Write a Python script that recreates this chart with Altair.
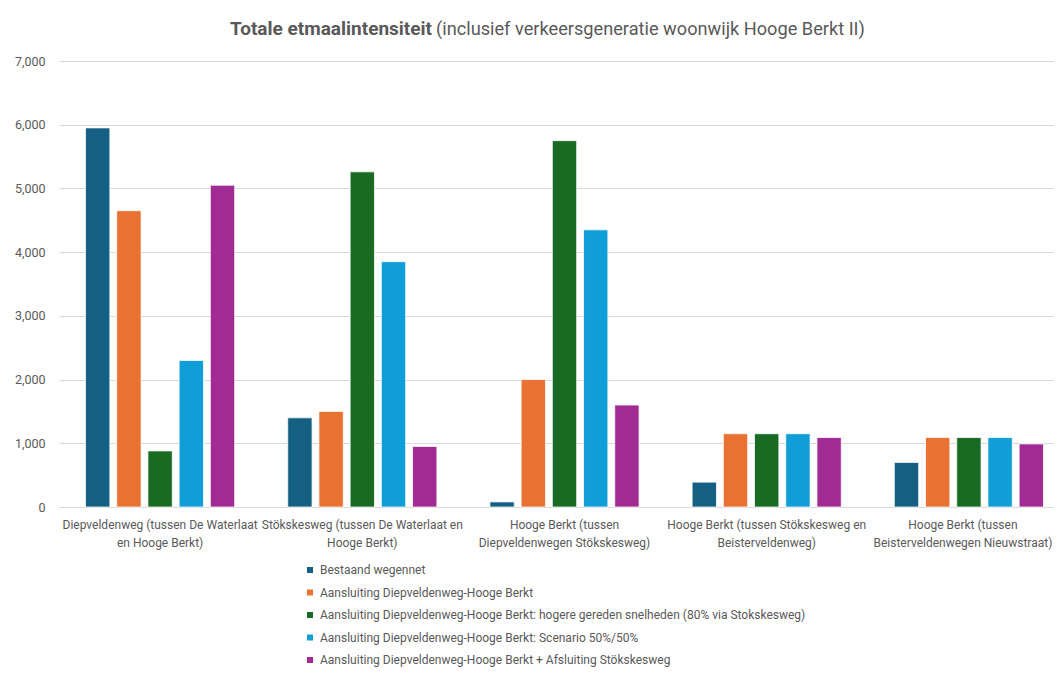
import altair as alt
import pandas as pd

categories = [
    "Diepveldenweg (tussen De Waterlaat\nen Hooge Berkt)",
    "Stökskesweg (tussen De Waterlaat en\nHooge Berkt)",
    "Hooge Berkt (tussen\nDiepveldenwegen Stökskesweg)",
    "Hooge Berkt (tussen Stökskesweg en\nBeisterveldenweg)",
    "Hooge Berkt (tussen\nBeisterveldenwegen Nieuwstraat)",
]
series = [
    "Bestaand wegennet",
    "Aansluiting Diepveldenweg-Hooge Berkt",
    "Aansluiting Diepveldenweg-Hooge Berkt: hogere gereden snelheden (80% via Stokskesweg)",
    "Aansluiting Diepveldenweg-Hooge Berkt: Scenario 50%/50%",
    "Aansluiting Diepveldenweg-Hooge Berkt + Afsluiting Stökskesweg",
]
bestaand = [5950, 1400, 80, 390, 700]
aansluiting = [4650, 1500, 2000, 1150, 1090]
hogere = [880, 5260, 5750, 1150, 1090]
scenario = [2300, 3850, 4350, 1150, 1090]
afsluiting = [5050, 950, 1600, 1090, 990]
colors = ["#156082", "#E97132", "#196B24", "#0F9ED5", "#A02B93"]
y_ticks = [0, 1000, 2000, 3000, 4000, 5000, 6000, 7000]
title_bold = "Totale etmaalintensiteit"
title_rest = "(inclusief verkeersgeneratie woonwijk Hooge Berkt II)"

values = [bestaand, aansluiting, hogere, scenario, afsluiting]
rows = []
for s, vals in zip(series, values):
    for c, v in zip(categories, vals):
        rows.append({"weg": c, "scenario": s, "waarde": v})
df = pd.DataFrame(rows)

GREY = "#595959"
FONT = "Roboto"

bars = alt.Chart(df).mark_bar(stroke="white", strokeWidth=0.75).encode(
    x=alt.X(
        "weg:N",
        sort=categories,
        scale=alt.Scale(range=[0, 1011], paddingInner=0, paddingOuter=0),
        axis=alt.Axis(
            title=None,
            labelAngle=0,
            labelExpr="split(datum.label, '\\n')",
            labelLineHeight=18,
            labelFontSize=12,
            labelColor=GREY,
            labelPadding=12,
            labelLimit=400,
            labelOffset=alt.condition(
                "indexof(datum.value, 'Nieuwstraat') >= 0", alt.value(-6), alt.value(0)
            ),
            ticks=False,
            domain=True,
            domainColor="#D9D9D9",
            grid=False,
        ),
    ),
    xOffset=alt.XOffset(
        "scenario:N",
        sort=series,
        scale=alt.Scale(paddingInner=0.22, paddingOuter=0.85),
    ),
    y=alt.Y(
        "waarde:Q",
        scale=alt.Scale(domain=[0, 7000], nice=False),
        axis=alt.Axis(
            title=None,
            values=y_ticks,
            format=",.0f",
            grid=True,
            gridColor="#D9D9D9",
            gridWidth=1,
            domain=False,
            ticks=False,
            labelPadding=14,
            labelFontSize=12.5,
            labelColor=GREY,
        ),
    ),
    color=alt.Color(
        "scenario:N",
        sort=series,
        scale=alt.Scale(domain=series, range=colors),
        legend=alt.Legend(
            title=None,
            orient="none",
            legendX=245,
            legendY=503,
            direction="vertical",
            symbolType="square",
            symbolSize=36,
            symbolStrokeWidth=0,
            labelFontSize=12,
            labelColor=GREY,
            labelOffset=4,
            rowPadding=10.5,
            labelLimit=700,
        ),
    ),
)

t1 = alt.Chart(pd.DataFrame({"t": [title_bold]})).mark_text(
    align="right", baseline="alphabetic", fontSize=19, fontWeight="bold", color=GREY, font=FONT
).encode(text="t:N", x=alt.value(373), y=alt.value(-26.5))

t2 = alt.Chart(pd.DataFrame({"t": [title_rest]})).mark_text(
    align="left", baseline="alphabetic", fontSize=18.2, color=GREY, font=FONT
).encode(text="t:N", x=alt.value(377), y=alt.value(-26.5))

chart = alt.layer(bars, t1, t2).properties(
    width=995,
    height=446,
    autosize=alt.AutoSizeParams(type="none"),
    padding={"left": 51, "top": 53, "right": 0, "bottom": 161},
    background="white",
).configure(font=FONT).configure_view(stroke=None)

chart.save("out.html", embed_options={"renderer": "svg", "actions": False})
